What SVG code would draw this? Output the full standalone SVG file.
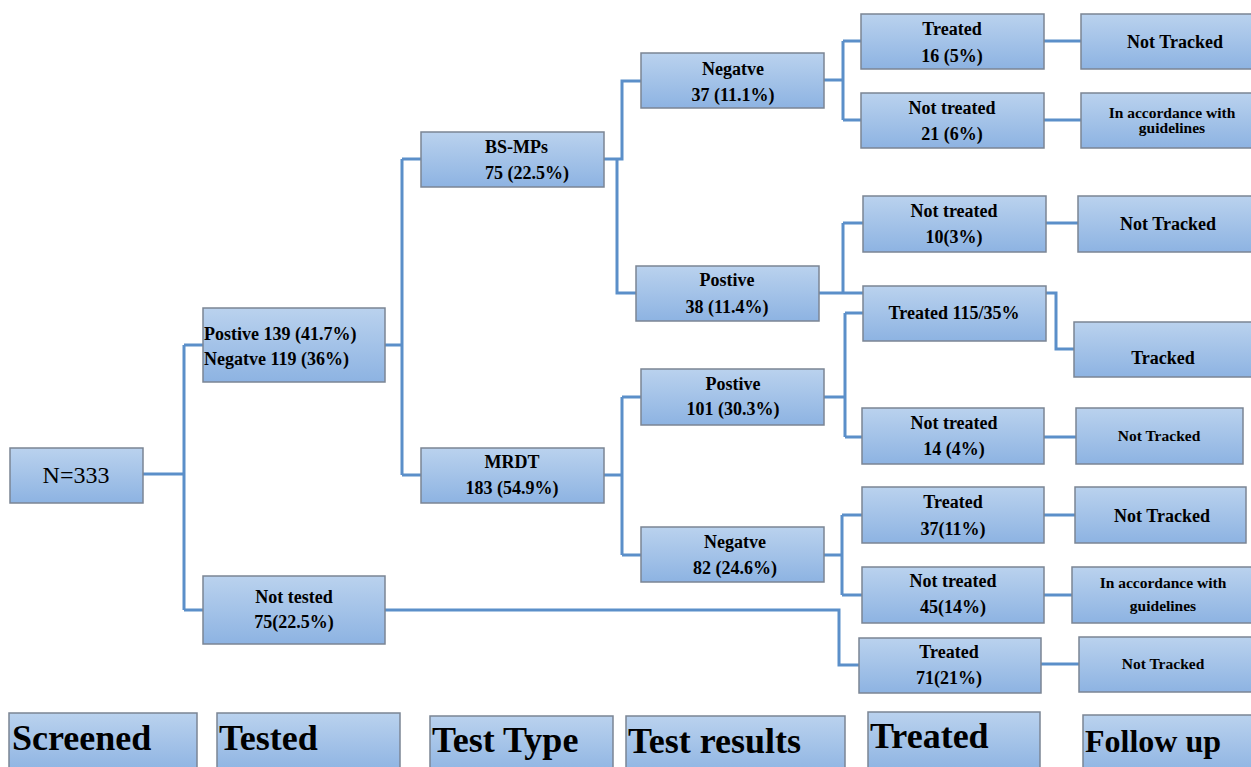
<svg xmlns="http://www.w3.org/2000/svg" width="1251" height="767" viewBox="0 0 1251 767">
<defs>
<linearGradient id="g" x1="0" y1="0" x2="0" y2="1">
<stop offset="0" stop-color="#bad2ee"/>
<stop offset="1" stop-color="#8db3e2"/>
</linearGradient>
<style>
.b{fill:url(#g);stroke:#7b8594;stroke-width:1.5}
.t{font-family:"Liberation Serif","Times New Roman",serif;font-weight:bold;font-size:18px;fill:#000;text-anchor:middle}
.s{font-size:15.5px}
.l{text-anchor:start}
.h{font-family:"Liberation Serif","Times New Roman",serif;font-weight:bold;font-size:36px;fill:#000}
.c{fill:none;stroke:#5b8fc9;stroke-width:3}
</style>
</defs>
<rect width="1251" height="767" fill="#fff"/>
<g id="connectors">
<path class="c" d="M143,474H184M184,345V610M184,345H203M184,610H203"/>
<path class="c" d="M385,345H402M402,159V475M402,159H421M402,475H421"/>
<path class="c" d="M604,159H622V81H641M617,159V293H636"/>
<path class="c" d="M604,475H622M622,397V555M622,397H641M622,555H641"/>
<path class="c" d="M824,80H843M843,41V120M843,41H861M843,120H861"/>
<path class="c" d="M819,293H863M843,223V293M843,223H863"/>
<path class="c" d="M824,397H845M845,313V437M845,313H863M845,437H862"/>
<path class="c" d="M824,555H842M842,515V595M842,515H862M842,595H862"/>
<path class="c" d="M385,610H839V665H859"/>
<path class="c" d="M1044,41H1081M1044,120H1081M1046,223H1078M1046,293H1056V349H1074M1044,437H1076M1044,515H1075M1044,595H1072M1041,664H1079"/>
</g>
<g id="n-screened"><rect class="b" x="10" y="448" width="133" height="55"/><text x="76" y="483" style="font-family:'Liberation Serif','Times New Roman',serif;font-size:24px;text-anchor:middle">N=333</text></g>
<g id="n-tested"><rect class="b" x="203" y="308" width="182" height="74"/><text class="t l" x="204" y="340">Postive 139 (41.7%)</text><text class="t l" x="204" y="365">Negatve 119 (36%)</text></g>
<g id="n-nottested"><rect class="b" x="203" y="576" width="182" height="68"/><text class="t" x="294" y="603">Not tested</text><text class="t" x="294" y="628">75(22.5%)</text></g>
<g id="n-bsmps"><rect class="b" x="421" y="132" width="183" height="55"/><text class="t l" x="485" y="153">BS-MPs</text><text class="t l" x="485" y="179">75 (22.5%)</text></g>
<g id="n-mrdt"><rect class="b" x="421" y="448" width="183" height="55"/><text class="t" x="512" y="468">MRDT</text><text class="t" x="512" y="494">183 (54.9%)</text></g>
<g id="n-neg1"><rect class="b" x="641" y="53" width="183" height="55"/><text class="t" x="733" y="75">Negatve</text><text class="t" x="733" y="101">37 (11.1%)</text></g>
<g id="n-pos1"><rect class="b" x="636" y="266" width="183" height="55"/><text class="t" x="727" y="286">Postive</text><text class="t" x="727" y="313">38 (11.4%)</text></g>
<g id="n-pos2"><rect class="b" x="641" y="369" width="183" height="56"/><text class="t" x="733" y="390">Postive</text><text class="t" x="733" y="415">101 (30.3%)</text></g>
<g id="n-neg2"><rect class="b" x="641" y="527" width="183" height="55"/><text class="t" x="735" y="548">Negatve</text><text class="t" x="735" y="574">82 (24.6%)</text></g>
<g id="n-tr16"><rect class="b" x="861" y="14" width="183" height="55"/><text class="t" x="952" y="35">Treated</text><text class="t" x="952" y="62">16 (5%)</text></g>
<g id="n-nt21"><rect class="b" x="861" y="93" width="183" height="55"/><text class="t" x="952" y="114">Not treated</text><text class="t" x="952" y="140">21 (6%)</text></g>
<g id="n-nt10"><rect class="b" x="863" y="196" width="183" height="56"/><text class="t" x="954" y="217">Not treated</text><text class="t" x="954" y="243">10(3%)</text></g>
<g id="n-tr115"><rect class="b" x="863" y="286" width="183" height="55"/><text class="t" x="954" y="319">Treated 115/35%</text></g>
<g id="n-nt14"><rect class="b" x="862" y="408" width="182" height="56"/><text class="t" x="954" y="429">Not treated</text><text class="t" x="954" y="455">14 (4%)</text></g>
<g id="n-tr37"><rect class="b" x="862" y="487" width="182" height="56"/><text class="t" x="953" y="508">Treated</text><text class="t" x="953" y="535">37(11%)</text></g>
<g id="n-nt45"><rect class="b" x="862" y="567" width="182" height="56"/><text class="t" x="953" y="587">Not treated</text><text class="t" x="953" y="613">45(14%)</text></g>
<g id="n-tr71"><rect class="b" x="859" y="638" width="182" height="55"/><text class="t" x="949" y="658">Treated</text><text class="t" x="949" y="684">71(21%)</text></g>
<g id="f1"><rect class="b" x="1081" y="14" width="185" height="55"/><text class="t" x="1175" y="48">Not Tracked</text></g>
<g id="f2"><rect class="b" x="1081" y="93" width="185" height="55"/><text class="t s" x="1172" y="118">In accordance with</text><text class="t s" x="1172" y="133">guidelines</text></g>
<g id="f3"><rect class="b" x="1078" y="196" width="185" height="56"/><text class="t" x="1168" y="230">Not Tracked</text></g>
<g id="f4"><rect class="b" x="1074" y="322" width="190" height="55"/><text class="t" x="1163" y="364">Tracked</text></g>
<g id="f5"><rect class="b" x="1076" y="408" width="167" height="56"/><text class="t s" x="1159" y="441">Not Tracked</text></g>
<g id="f6"><rect class="b" x="1075" y="487" width="171" height="56"/><text class="t" x="1162" y="522">Not Tracked</text></g>
<g id="f7"><rect class="b" x="1072" y="567" width="190" height="56"/><text class="t s" x="1163" y="588">In accordance with</text><text class="t s" x="1163" y="611">guidelines</text></g>
<g id="f8"><rect class="b" x="1079" y="637" width="185" height="55"/><text class="t s" x="1163" y="669">Not Tracked</text></g>
<g id="legend">
<rect class="b" x="9" y="713" width="188" height="60"/><text class="h" x="12" y="750">Screened</text>
<rect class="b" x="217" y="713" width="183" height="60"/><text class="h" x="219" y="750">Tested</text>
<rect class="b" x="430" y="716" width="183" height="60"/><text class="h" x="432" y="752">Test Type</text>
<rect class="b" x="626" y="716" width="219" height="60"/><text class="h" x="628" y="753">Test results</text>
<rect class="b" x="868" y="712" width="172" height="60"/><text class="h" x="870" y="748">Treated</text>
<rect class="b" x="1083" y="715" width="180" height="60"/><text class="h" x="1085" y="752" style="font-size:32px">Follow up</text>
</g>
</svg>
